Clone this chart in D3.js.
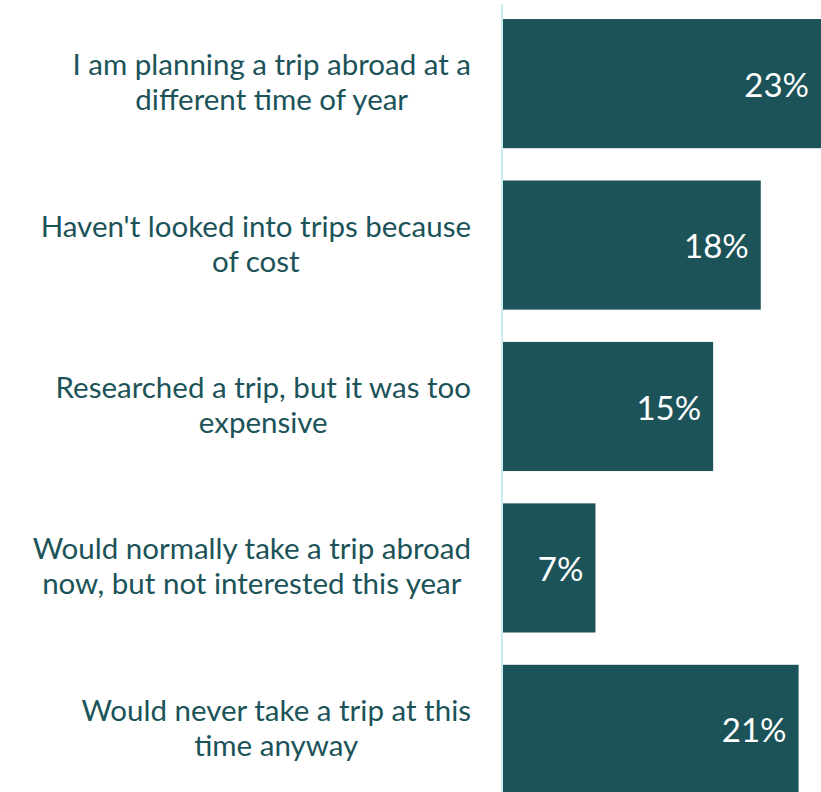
<!DOCTYPE html>
<html>
<head>
<meta charset="utf-8">
<script src="https://cdn.jsdelivr.net/npm/d3@7"></script>
<style>
  html, body { margin: 0; padding: 0; background: #fff; }
  svg { display: block; }
</style>
</head>
<body>
<svg id="chart" width="821" height="792"></svg>
<script>
const categories = [
  "I am planning a trip abroad at a\ndifferent time of year",
  "Haven't looked into trips because\nof cost",
  "Researched a trip, but it was too\nexpensive",
  "Would normally take a trip abroad\nnow, but not interested this year",
  "Would never take a trip at this\ntime anyway"
];
const values = [22.7, 18.4, 15.0, 6.6, 21.1];
const valueLabels = ["23%", "18%", "15%", "7%", "21%"];

const W = 821, H = 792;
const x0 = 503;
const barColor = "#1b5359";
const textColor = "#1b5359";
const fontFamily = "Lato, 'Open Sans', sans-serif";

const svg = d3.select("#chart");

const x = d3.scaleLinear().domain([0, 22.7]).range([x0, 821]);
const y = d3.scaleBand()
  .domain(d3.range(categories.length))
  .range([0, 813])
  .paddingInner(0.2)
  .paddingOuter(0.118);

// bars
svg.append("g").selectAll("rect")
  .data(values)
  .join("rect")
  .attr("x", x(0))
  .attr("y", (d, i) => y(i))
  .attr("width", d => x(d) - x(0))
  .attr("height", y.bandwidth())
  .attr("fill", barColor);

// axis line
svg.append("line")
  .attr("x1", x0 - 1).attr("x2", x0 - 1)
  .attr("y1", 4).attr("y2", H)
  .attr("stroke", "#c8eef2")
  .attr("stroke-width", 2);

// value labels
svg.append("g").selectAll("text")
  .data(values)
  .join("text")
  .attr("x", d => x(d) - 12)
  .attr("y", (d, i) => y(i) + y.bandwidth() / 2 + 13)
  .attr("text-anchor", "end")
  .attr("fill", "#ffffff")
  .attr("font-family", fontFamily)
  .attr("font-size", 33)
  .text((d, i) => valueLabels[i]);

// category labels: block right-aligned, lines centered within block
const labelRight = 471;
const lineGap = 35;
categories.forEach((c, i) => {
  const lines = c.split("\n");
  const g = svg.append("g");
  const cy = y(i) + y.bandwidth() / 2;
  const texts = lines.map((ln, j) => g.append("text")
    .attr("y", cy + (j - (lines.length - 1) / 2) * lineGap + 9)
    .attr("text-anchor", "middle")
    .attr("fill", textColor)
    .attr("font-family", fontFamily)
    .attr("font-size", 29.5)
    .text(ln));
  const maxW = d3.max(texts, t => t.node().getComputedTextLength());
  texts.forEach(t => t.attr("x", labelRight - maxW / 2));
});
</script>
</body>
</html>
